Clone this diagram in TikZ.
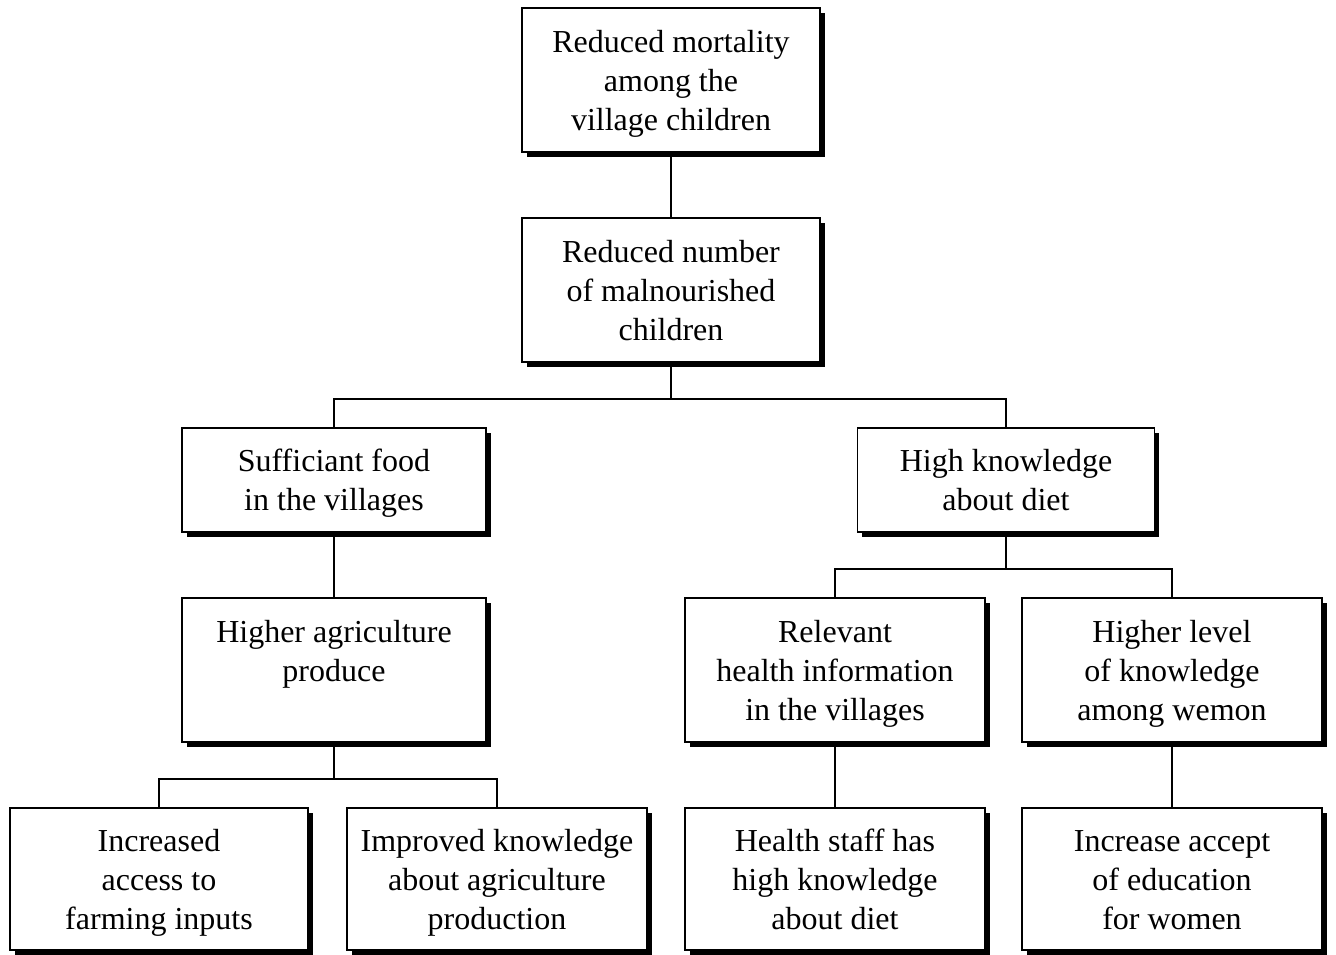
\documentclass[tikz,border=0pt]{standalone}
\usepackage{fontspec}
\setmainfont{Liberation Serif}
\usetikzlibrary{shadows}
% box text: centred lines, lowered slightly without changing the box size
\newcommand\boxlines[1]{\raisebox{-3.5pt}[\height][\depth]{\begin{tabular}{@{}c@{}}#1\end{tabular}}}
\begin{document}
\begin{tikzpicture}[x=1pt,y=-1pt,
  goalbox/.style={draw, line width=1.8pt, fill=white, inner sep=0pt,
    font=\fontsize{32}{39}\selectfont,
    drop shadow={shadow xshift=4.5pt, shadow yshift=-4.5pt, opacity=1, fill=black}},
  link/.style={line width=1.8pt}]
\useasboundingbox (0,0) rectangle (1336,954);
% level 1 and 2
\node[goalbox, minimum width=298pt, minimum height=144pt] (top) at (671,80)
  {\boxlines{Reduced mortality\\among the\\village children}};
\node[goalbox, minimum width=298pt, minimum height=144pt] (mal) at (671,290)
  {\boxlines{Reduced number\\of malnourished\\children}};
% level 3
\node[goalbox, minimum width=304pt, minimum height=104pt] (food) at (334,480)
  {\boxlines{Sufficiant food\\in the villages}};
\node[goalbox, minimum width=297pt, minimum height=104pt] (know) at (1006,480)
  {\boxlines{High knowledge\\about diet}};
% level 4
\node[goalbox, minimum width=304pt, minimum height=144pt] (agri) at (334,670)
  {\boxlines{Higher agriculture\\produce\\~}};
\node[goalbox, minimum width=300pt, minimum height=144pt] (rel) at (835,670)
  {\boxlines{Relevant\\health information\\in the villages}};
\node[goalbox, minimum width=300pt, minimum height=144pt] (lvl) at (1172,670)
  {\boxlines{Higher level\\of knowledge\\among wemon}};
% level 5
\node[goalbox, minimum width=298pt, minimum height=142pt] (inc) at (159,879)
  {\boxlines{Increased\\access to\\farming inputs}};
\node[goalbox, minimum width=300pt, minimum height=142pt] (imp) at (497,879)
  {\boxlines{Improved knowledge\\about agriculture\\production}};
\node[goalbox, minimum width=300pt, minimum height=142pt] (staff) at (835,879)
  {\boxlines{Health staff has\\high knowledge\\about diet}};
\node[goalbox, minimum width=300pt, minimum height=142pt] (acc) at (1172,879)
  {\boxlines{Increase accept\\of education\\for women}};
% connectors
\draw[link] (top.south) -- (mal.north);
\draw[link] (mal.south) -- ++(0,36) -| (food.north);
\draw[link] (mal.south) -- ++(0,36) -| (know.north);
\draw[link] (food.south) -- (agri.north);
\draw[link] (know.south) -- ++(0,36) -| (rel.north);
\draw[link] (know.south) -- ++(0,36) -| (lvl.north);
\draw[link] (agri.south) -- ++(0,36) -| (inc.north);
\draw[link] (agri.south) -- ++(0,36) -| (imp.north);
\draw[link] (rel.south) -- (staff.north);
\draw[link] (lvl.south) -- (acc.north);
\end{tikzpicture}
\end{document}
